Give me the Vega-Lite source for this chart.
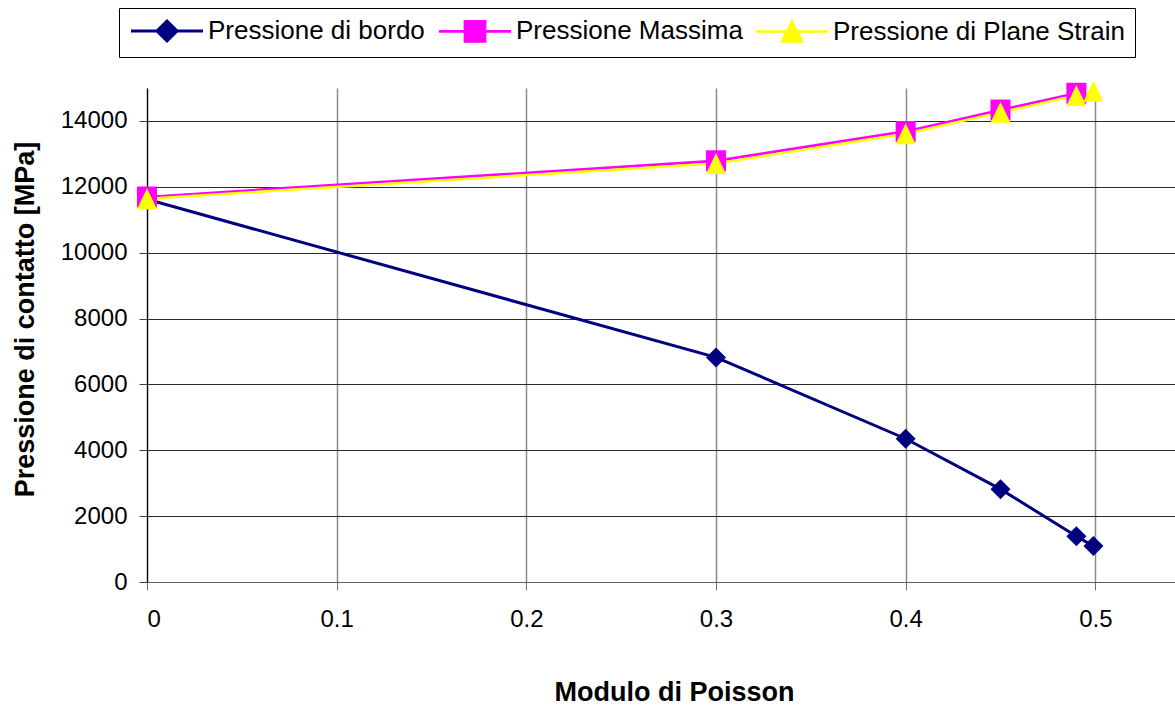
{
  "$schema": "https://vega.github.io/schema/vega-lite/v6.json",
  "autosize": "none",
  "width": 1028,
  "height": 494,
  "padding": {"left": 147, "top": 88, "right": 0, "bottom": 125},
  "background": "white",
  "config": {
    "view": {"stroke": null},
    "font": "Liberation Sans",
    "axis": {"labelFont": "Liberation Sans", "titleFont": "Liberation Sans"}
  },
  "data": {
    "values": [
      {"series": "Pressione di bordo", "nu": 0, "p": 11620},
      {"series": "Pressione di bordo", "nu": 0.3, "p": 6820},
      {"series": "Pressione di bordo", "nu": 0.4, "p": 4350},
      {"series": "Pressione di bordo", "nu": 0.45, "p": 2820},
      {"series": "Pressione di bordo", "nu": 0.49, "p": 1390},
      {"series": "Pressione di bordo", "nu": 0.499, "p": 1090},
      {"series": "Pressione Massima", "nu": 0, "p": 11690},
      {"series": "Pressione Massima", "nu": 0.3, "p": 12790},
      {"series": "Pressione Massima", "nu": 0.4, "p": 13680},
      {"series": "Pressione Massima", "nu": 0.45, "p": 14330},
      {"series": "Pressione Massima", "nu": 0.49, "p": 14840},
      {"series": "Pressione di Plane Strain", "nu": 0, "p": 11640},
      {"series": "Pressione di Plane Strain", "nu": 0.3, "p": 12710},
      {"series": "Pressione di Plane Strain", "nu": 0.4, "p": 13610},
      {"series": "Pressione di Plane Strain", "nu": 0.45, "p": 14260},
      {"series": "Pressione di Plane Strain", "nu": 0.49, "p": 14770},
      {"series": "Pressione di Plane Strain", "nu": 0.499, "p": 14900}
    ]
  },
  "encoding": {
    "x": {
      "field": "nu", "type": "quantitative",
      "scale": {"domain": [0, 0.542], "nice": false, "zero": false},
      "axis": {
        "values": [0, 0.1, 0.2, 0.3, 0.4, 0.5],
        "format": "~g",
        "title": "Modulo di Poisson",
        "titleFontSize": 27, "titleFontWeight": "bold", "titleColor": "black",
        "titleX": 527, "titleY": 118, "titleBaseline": "alphabetic", "titleAnchor": null, "titleAlign": "center",
        "labelFontSize": 24, "labelColor": "black", "labelPadding": 17,
        "tickSize": 8, "tickColor": "#707070", "tickWidth": 1,
        "domainColor": "#606060", "domainWidth": 1,
        "grid": true, "gridColor": "#8a8a8a", "gridWidth": 1.5
      }
    },
    "y": {
      "field": "p", "type": "quantitative",
      "scale": {"domain": [0, 15000], "nice": false},
      "axis": {
        "values": [0, 2000, 4000, 6000, 8000, 10000, 12000, 14000],
        "format": "d",
        "title": "Pressione di contatto [MPa]",
        "titleFontSize": 27, "titleFontWeight": "bold", "titleColor": "black",
        "titleX": -122, "titleY": 231, "titleAngle": 270, "titleBaseline": "middle", "titleAlign": "center", "titleAnchor": null,
        "labelFontSize": 24, "labelColor": "black", "labelPadding": 12,
        "tickSize": 8, "tickColor": "#404040", "tickWidth": 1,
        "domainColor": "black", "domainWidth": 1.2,
        "grid": true, "gridColor": "#2a2a2a", "gridWidth": 1
      }
    },
    "color": {
      "field": "series", "type": "nominal",
      "scale": {
        "domain": ["Pressione di bordo", "Pressione Massima", "Pressione di Plane Strain"],
        "range": ["#000080", "#FF00FF", "#FFFF00"]
      },
      "legend": {
        "title": null,
        "orient": "none",
        "legendX": -28,
        "legendY": -80,
        "direction": "horizontal",
        "columns": 3,
        "columnPadding": 8,
        "padding": 10,
        "strokeColor": "black",
        "fillColor": "white",
        "symbolSize": 400,
        "symbolOffset": 25,
        "symbolStrokeWidth": 3,
        "symbolOpacity": 1,
        "symbolType": {"expr": "datum.value == 'Pressione di bordo' ? 'M-3.6,0H3.6M0,-1L1,0L0,1L-1,0Z' : datum.value == 'Pressione Massima' ? 'M-3.6,0H3.6M-1,-1H1V1H-1Z' : 'M-3.6,0H3.6M0,-1L1,1L-1,1Z'"},
        "labelFont": "Liberation Sans",
        "labelFontSize": 26,
        "labelColor": "black",
        "labelOffset": 28,
        "labelLimit": 500
      }
    }
  },
  "layer": [
    {
      "mark": {"type": "line", "clip": false},
      "encoding": {
        "strokeWidth": {
          "field": "series", "type": "nominal",
          "scale": {"domain": ["Pressione di bordo", "Pressione Massima", "Pressione di Plane Strain"], "range": [3, 2.5, 4]},
          "legend": null
        }
      }
    },
    {
      "transform": [{"filter": "datum.series == 'Pressione di bordo'"}],
      "mark": {"type": "point", "filled": true, "opacity": 1, "size": 400, "strokeWidth": 0, "clip": false, "shape": "M0,-1L1,0L0,1L-1,0Z"}
    },
    {
      "transform": [{"filter": "datum.series == 'Pressione Massima'"}],
      "mark": {"type": "point", "filled": true, "opacity": 1, "size": 400, "strokeWidth": 0, "clip": false, "shape": "M-1,-1.05H1V1.05H-1Z"}
    },
    {
      "transform": [{"filter": "datum.series == 'Pressione di Plane Strain'"}],
      "mark": {"type": "point", "filled": true, "opacity": 1, "size": 400, "strokeWidth": 0, "clip": false, "shape": "M0,-1.05L1,1.05L-1,1.05Z"}
    }
  ]
}
